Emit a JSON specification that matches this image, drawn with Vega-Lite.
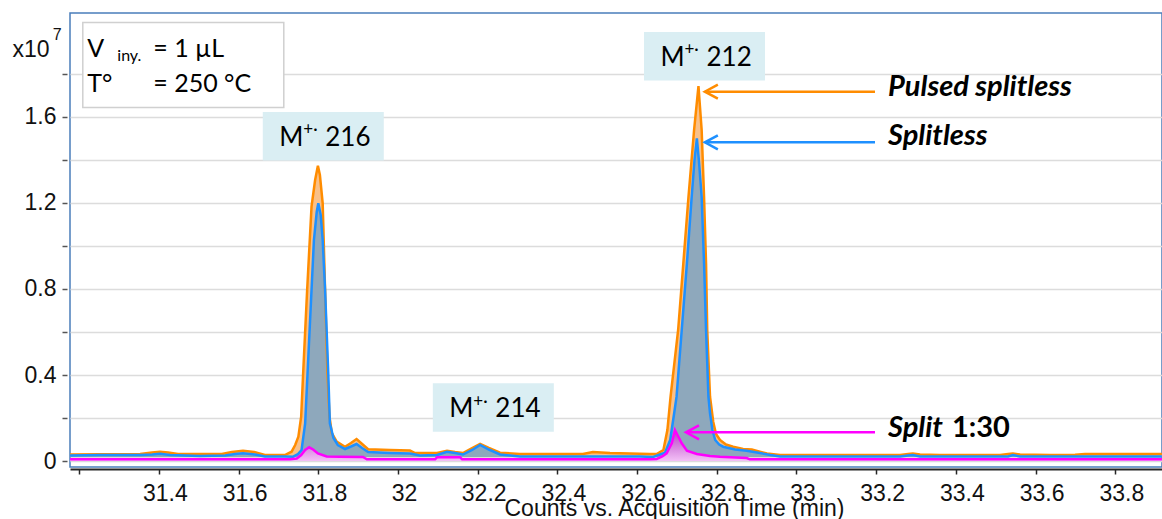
{
  "$schema": "https://vega.github.io/schema/vega-lite/v6.json",
  "width": 1092,
  "height": 454,
  "autosize": {"type": "none"},
  "padding": {"left": 70, "top": 13, "right": 0, "bottom": 52},
  "background": "white",
  "config": {"view": {"stroke": "#4a7ebb", "strokeWidth": 1.5}, "font": "Liberation Sans"},
  "datasets": {
    "traces": [
      {"s":"p","t":31.177,"y":0.0302},{"s":"p","t":31.252,"y":0.0312},{"s":"p","t":31.353,"y":0.0326},{"s":"p","t":31.383,"y":0.0395},{"s":"p","t":31.403,"y":0.0433},{"s":"p","t":31.423,"y":0.0395},{"s":"p","t":31.448,"y":0.0326},{"s":"p","t":31.503,"y":0.0326},{"s":"p","t":31.558,"y":0.0326},{"s":"p","t":31.583,"y":0.0419},{"s":"p","t":31.611,"y":0.0479},{"s":"p","t":31.639,"y":0.0419},{"s":"p","t":31.666,"y":0.0279},{"s":"p","t":31.716,"y":0.0279},{"s":"p","t":31.733,"y":0.0433},{"s":"p","t":31.742,"y":0.0744},{"s":"p","t":31.750,"y":0.1130},{"s":"p","t":31.757,"y":0.2060},{"s":"p","t":31.762,"y":0.4093},{"s":"p","t":31.772,"y":0.7953},{"s":"p","t":31.783,"y":1.1828},{"s":"p","t":31.792,"y":1.3069},{"s":"p","t":31.799,"y":1.3734},{"s":"p","t":31.804,"y":1.3302},{"s":"p","t":31.811,"y":1.1986},{"s":"p","t":31.817,"y":0.7953},{"s":"p","t":31.823,"y":0.4079},{"s":"p","t":31.828,"y":0.2060},{"s":"p","t":31.834,"y":0.1302},{"s":"p","t":31.846,"y":0.0898},{"s":"p","t":31.867,"y":0.0665},{"s":"p","t":31.882,"y":0.0837},{"s":"p","t":31.896,"y":0.1023},{"s":"p","t":31.910,"y":0.0791},{"s":"p","t":31.925,"y":0.0544},{"s":"p","t":31.980,"y":0.0512},{"s":"p","t":32.030,"y":0.0488},{"s":"p","t":32.043,"y":0.0372},{"s":"p","t":32.098,"y":0.0372},{"s":"p","t":32.123,"y":0.0479},{"s":"p","t":32.143,"y":0.0419},{"s":"p","t":32.163,"y":0.0372},{"s":"p","t":32.186,"y":0.0605},{"s":"p","t":32.206,"y":0.0791},{"s":"p","t":32.228,"y":0.0605},{"s":"p","t":32.256,"y":0.0386},{"s":"p","t":32.306,"y":0.0326},{"s":"p","t":32.407,"y":0.0326},{"s":"p","t":32.464,"y":0.0326},{"s":"p","t":32.489,"y":0.0419},{"s":"p","t":32.532,"y":0.0372},{"s":"p","t":32.582,"y":0.0349},{"s":"p","t":32.632,"y":0.0326},{"s":"p","t":32.649,"y":0.0326},{"s":"p","t":32.666,"y":0.0512},{"s":"p","t":32.676,"y":0.1442},{"s":"p","t":32.684,"y":0.2991},{"s":"p","t":32.703,"y":0.6093},{"s":"p","t":32.716,"y":0.9195},{"s":"p","t":32.729,"y":1.2293},{"s":"p","t":32.743,"y":1.5395},{"s":"p","t":32.754,"y":1.7441},{"s":"p","t":32.762,"y":1.5395},{"s":"p","t":32.768,"y":1.2293},{"s":"p","t":32.773,"y":0.9195},{"s":"p","t":32.776,"y":0.6093},{"s":"p","t":32.783,"y":0.2991},{"s":"p","t":32.791,"y":0.1828},{"s":"p","t":32.798,"y":0.1256},{"s":"p","t":32.808,"y":0.0977},{"s":"p","t":32.823,"y":0.0767},{"s":"p","t":32.841,"y":0.0665},{"s":"p","t":32.866,"y":0.0558},{"s":"p","t":32.888,"y":0.0535},{"s":"p","t":32.908,"y":0.0433},{"s":"p","t":32.926,"y":0.0349},{"s":"p","t":32.959,"y":0.0279},{"s":"p","t":33.009,"y":0.0279},{"s":"p","t":33.134,"y":0.0279},{"s":"p","t":33.260,"y":0.0279},{"s":"p","t":33.280,"y":0.0326},{"s":"p","t":33.292,"y":0.0349},{"s":"p","t":33.310,"y":0.0302},{"s":"p","t":33.360,"y":0.0279},{"s":"p","t":33.511,"y":0.0279},{"s":"p","t":33.531,"y":0.0326},{"s":"p","t":33.543,"y":0.0349},{"s":"p","t":33.561,"y":0.0302},{"s":"p","t":33.636,"y":0.0279},{"s":"p","t":33.699,"y":0.0293},{"s":"p","t":33.724,"y":0.0326},{"s":"p","t":33.812,"y":0.0326},{"s":"p","t":33.917,"y":0.0326},

      {"s":"b","t":31.177,"y":0.0256},{"s":"b","t":31.252,"y":0.0279},{"s":"b","t":31.353,"y":0.0279},{"s":"b","t":31.383,"y":0.0302},{"s":"b","t":31.403,"y":0.0340},{"s":"b","t":31.428,"y":0.0279},{"s":"b","t":31.503,"y":0.0233},{"s":"b","t":31.566,"y":0.0256},{"s":"b","t":31.591,"y":0.0326},{"s":"b","t":31.611,"y":0.0358},{"s":"b","t":31.641,"y":0.0302},{"s":"b","t":31.666,"y":0.0209},{"s":"b","t":31.716,"y":0.0209},{"s":"b","t":31.737,"y":0.0200},{"s":"b","t":31.749,"y":0.0326},{"s":"b","t":31.758,"y":0.0512},{"s":"b","t":31.767,"y":0.1753},{"s":"b","t":31.773,"y":0.4079},{"s":"b","t":31.783,"y":0.7953},{"s":"b","t":31.789,"y":1.0279},{"s":"b","t":31.796,"y":1.1581},{"s":"b","t":31.800,"y":1.1986},{"s":"b","t":31.806,"y":1.1441},{"s":"b","t":31.811,"y":1.0279},{"s":"b","t":31.817,"y":0.7953},{"s":"b","t":31.825,"y":0.4079},{"s":"b","t":31.829,"y":0.1753},{"s":"b","t":31.838,"y":0.1070},{"s":"b","t":31.849,"y":0.0744},{"s":"b","t":31.867,"y":0.0558},{"s":"b","t":31.882,"y":0.0674},{"s":"b","t":31.896,"y":0.0791},{"s":"b","t":31.910,"y":0.0605},{"s":"b","t":31.925,"y":0.0419},{"s":"b","t":31.980,"y":0.0372},{"s":"b","t":32.030,"y":0.0349},{"s":"b","t":32.055,"y":0.0256},{"s":"b","t":32.098,"y":0.0279},{"s":"b","t":32.123,"y":0.0433},{"s":"b","t":32.143,"y":0.0372},{"s":"b","t":32.163,"y":0.0302},{"s":"b","t":32.186,"y":0.0512},{"s":"b","t":32.206,"y":0.0744},{"s":"b","t":32.228,"y":0.0535},{"s":"b","t":32.256,"y":0.0302},{"s":"b","t":32.306,"y":0.0209},{"s":"b","t":32.407,"y":0.0209},{"s":"b","t":32.507,"y":0.0209},{"s":"b","t":32.607,"y":0.0209},{"s":"b","t":32.640,"y":0.0186},{"s":"b","t":32.670,"y":0.0386},{"s":"b","t":32.683,"y":0.0977},{"s":"b","t":32.693,"y":0.2219},{"s":"b","t":32.699,"y":0.2991},{"s":"b","t":32.712,"y":0.6093},{"s":"b","t":32.725,"y":0.9195},{"s":"b","t":32.737,"y":1.2293},{"s":"b","t":32.744,"y":1.4000},{"s":"b","t":32.750,"y":1.5009},{"s":"b","t":32.755,"y":1.4000},{"s":"b","t":32.762,"y":1.2293},{"s":"b","t":32.768,"y":0.9195},{"s":"b","t":32.773,"y":0.6093},{"s":"b","t":32.779,"y":0.2991},{"s":"b","t":32.783,"y":0.2219},{"s":"b","t":32.789,"y":0.1442},{"s":"b","t":32.796,"y":0.0977},{"s":"b","t":32.806,"y":0.0767},{"s":"b","t":32.816,"y":0.0665},{"s":"b","t":32.846,"y":0.0535},{"s":"b","t":32.875,"y":0.0479},{"s":"b","t":32.908,"y":0.0372},{"s":"b","t":32.934,"y":0.0279},{"s":"b","t":32.959,"y":0.0209},{"s":"b","t":33.260,"y":0.0209},{"s":"b","t":33.280,"y":0.0256},{"s":"b","t":33.292,"y":0.0279},{"s":"b","t":33.310,"y":0.0209},{"s":"b","t":33.531,"y":0.0209},{"s":"b","t":33.543,"y":0.0279},{"s":"b","t":33.561,"y":0.0209},{"s":"b","t":33.917,"y":0.0209},

      {"s":"m","t":31.177,"y":0.0079},{"s":"m","t":31.729,"y":0.0079},{"s":"m","t":31.746,"y":0.0116},{"s":"m","t":31.757,"y":0.0279},{"s":"m","t":31.767,"y":0.0512},{"s":"m","t":31.777,"y":0.0637},{"s":"m","t":31.787,"y":0.0535},{"s":"m","t":31.799,"y":0.0349},{"s":"m","t":31.821,"y":0.0209},{"s":"m","t":31.854,"y":0.0195},{"s":"m","t":31.912,"y":0.0186},{"s":"m","t":31.922,"y":0.0079},{"s":"m","t":32.093,"y":0.0079},{"s":"m","t":32.098,"y":0.0172},{"s":"m","t":32.156,"y":0.0172},{"s":"m","t":32.161,"y":0.0079},{"s":"m","t":32.632,"y":0.0079},{"s":"m","t":32.649,"y":0.0093},{"s":"m","t":32.663,"y":0.0209},{"s":"m","t":32.674,"y":0.0358},{"s":"m","t":32.687,"y":0.0823},{"s":"m","t":32.695,"y":0.1442},{"s":"m","t":32.704,"y":0.1116},{"s":"m","t":32.712,"y":0.0823},{"s":"m","t":32.725,"y":0.0479},{"s":"m","t":32.750,"y":0.0326},{"s":"m","t":32.783,"y":0.0233},{"s":"m","t":32.808,"y":0.0200},{"s":"m","t":32.875,"y":0.0140},{"s":"m","t":32.883,"y":0.0079},{"s":"m","t":33.917,"y":0.0079}
    ],
    "grid": [{"t":31.2},{"t":31.4},{"t":31.6},{"t":31.8},{"t":32.0},{"t":32.2},{"t":32.4},{"t":32.6},{"t":32.8},{"t":33.0},{"t":33.2},{"t":33.4},{"t":33.6},{"t":33.8}],
    "ions": [{"ion":"216","t":31.8125,"y":1.510},{"ion":"212","t":32.7691,"y":1.8823},{"ion":"214","t":32.2392,"y":0.2488}],
    "arrows": [{"s":"p","t":32.770,"t2":33.197,"y":1.7177},{"s":"b","t":32.770,"t2":33.197,"y":1.4823},{"s":"m","t":32.7227,"t2":33.197,"y":0.1335}],
    "names": [{"name":"Pulsed splitless","t":33.2296,"y":1.698},{"name":"Splitless","t":33.2296,"y":1.470},{"name":"Split","t":33.2296,"y":0.113}],
    "info": [{"t":31.4612,"y":1.8419}]
  },
  "encoding": {
    "x": {"field": "t", "type": "quantitative",
      "scale": {"domain": [31.1769, 33.9172], "nice": false, "zero": false},
      "axis": {"values": [31.2,31.4,31.6,31.8,32,32.2,32.4,32.6,32.8,33,33.2,33.4,33.6,33.8],
        "labelExpr": "datum.value < 31.3 ? '' : format(datum.value, '~g')",
        "grid": false, "offset": 2, "domainColor": "#262626", "domainWidth": 2,
        "tickColor": "#262626", "tickWidth": 1.5, "tickSize": 5,
        "labelFont": "Liberation Sans", "labelFontSize": 23, "labelColor": "#111111", "labelPadding": 8, "labelOffset": 6,
        "labelFlush": false, "labelOverlap": false,
        "title": "Counts vs. Acquisition Time (min)", "titleFont": "Liberation Sans", "titleFontSize": 23,
        "titleFontWeight": "normal", "titleColor": "#111111", "titleX": 604, "titleY": 46, "titleBaseline": "alphabetic"}},
    "y": {"field": "y", "type": "quantitative",
      "scale": {"domain": [-0.0279, 2.0837], "nice": false, "zero": false},
      "axis": {"values": [0,0.2,0.4,0.6,0.8,1.0,1.2,1.4,1.6,1.8],
        "labelExpr": "round(datum.value*10) % 4 == 0 ? format(datum.value, '~g') : ''",
        "grid": true, "gridColor": "#dcdcdc", "gridWidth": 1.5, "domain": false, "offset": 3,
        "tickColor": "#555555", "tickWidth": 1.5, "tickSize": 5,
        "labelFont": "Liberation Sans", "labelFontSize": 23, "labelColor": "#111111", "labelPadding": 6,
        "title": "x10", "titleAngle": 0, "titleX": -55, "titleY": 43, "titleAlign": "left", "titleBaseline": "alphabetic",
        "titleFont": "Liberation Sans", "titleFontSize": 23, "titleFontWeight": "normal", "titleColor": "#111111"}}
  },
  "layer": [
    {"data": {"name": "grid"}, "mark": {"type": "rule", "color": "#dcdcdc", "strokeWidth": 1.5},
     "encoding": {"y": {"datum": -0.0279}, "y2": {"datum": 1.92}}},
    {"data": {"values": [{}]}, "mark": {"type": "rule", "color": "#7f7f7f", "strokeWidth": 2, "xOffset": -3},
     "encoding": {"x": {"datum": 31.1769}, "y": {"datum": -0.0279}, "y2": {"datum": 1.92}}},
    {"data": {"name": "traces"}, "transform": [{"filter": "datum.s == 'p'"}],
     "mark": {"type": "area", "fill": "#f9c088", "opacity": 1},
     "encoding": {"y2": {"datum": 0.018}}},
    {"data": {"name": "traces"}, "transform": [{"filter": "datum.s == 'b'"}],
     "mark": {"type": "area", "fill": "#8ea8bc", "opacity": 1},
     "encoding": {"y2": {"datum": 0.018}}},
    {"data": {"name": "traces"}, "transform": [{"filter": "datum.s == 'm'"}],
     "mark": {"type": "area", "opacity": 1,
       "fill": {"gradient": "linear", "x1": 0, "y1": 0, "x2": 0, "y2": 1,
         "stops": [{"offset": 0, "color": "#b43fc4"}, {"offset": 1, "color": "#f3c0f6"}]}},
     "encoding": {"y2": {"datum": 0}}},
    {"data": {"name": "traces"}, "transform": [{"filter": "datum.s == 'p'"}],
     "mark": {"type": "line", "color": "#ff8c00", "strokeWidth": 2.5}},
    {"data": {"name": "traces"}, "transform": [{"filter": "datum.s == 'b'"}],
     "mark": {"type": "line", "color": "#1e90ff", "strokeWidth": 2.5}},
    {"data": {"name": "traces"}, "transform": [{"filter": "datum.s == 'm'"}],
     "mark": {"type": "line", "color": "#ff00ff", "strokeWidth": 2.5}},
    {"data": {"name": "arrows"}, "mark": {"type": "rule", "strokeWidth": 2.5},
     "encoding": {"x2": {"field": "t2"},
       "color": {"field": "s", "type": "nominal", "scale": {"domain": ["p","b","m"], "range": ["#ff8c00","#1e90ff","#ff00ff"]}, "legend": null}}},
    {"data": {"name": "arrows"}, "mark": {"type": "point", "shape": "M1,-0.54L0,0L1,0.54", "size": 676, "filled": false, "strokeWidth": 2.5, "opacity": 1},
     "encoding": {"color": {"field": "s", "type": "nominal", "scale": {"domain": ["p","b","m"], "range": ["#ff8c00","#1e90ff","#ff00ff"]}, "legend": null}}},
    {"data": {"name": "names"}, "mark": {"type": "text", "font": "Lato", "fontSize": 29, "fontWeight": "bold", "fontStyle": "italic", "align": "left", "baseline": "alphabetic", "color": "#000000"},
     "encoding": {"text": {"field": "name"}}},
    {"data": {"name": "names"}, "transform": [{"filter": "datum.name == 'Split'"}],
     "mark": {"type": "text", "text": "1:30", "font": "Lato", "fontSize": 29, "fontWeight": "bold", "align": "left", "baseline": "alphabetic", "color": "#000000", "dx": 64}},
    {"data": {"name": "ions"}, "mark": {"type": "point", "shape": "M-1,-0.401H1V0.401H-1Z", "size": 14641, "filled": true, "fill": "#daeef3", "strokeWidth": 0, "opacity": 1}},
    {"data": {"name": "ions"}, "mark": {"type": "text", "text": "M", "font": "Lato", "fontSize": 26, "align": "left", "baseline": "alphabetic", "color": "#000000", "dx": -44, "dy": 9.7}},
    {"data": {"name": "ions"}, "mark": {"type": "text", "text": "+·", "font": "Lato", "fontSize": 17, "align": "left", "baseline": "alphabetic", "color": "#000000", "dx": -20, "dy": -1}},
    {"data": {"name": "ions"}, "mark": {"type": "text", "font": "Lato", "fontSize": 26, "align": "left", "baseline": "alphabetic", "color": "#000000", "dx": 2, "dy": 9.7},
     "encoding": {"text": {"field": "ion"}}},
    {"data": {"name": "info"}, "mark": {"type": "text", "text": "7", "font": "Liberation Sans", "fontSize": 16, "align": "left", "baseline": "alphabetic", "color": "#111111", "dx": -130.5, "dy": -25}},
    {"data": {"name": "info"}, "mark": {"type": "point", "shape": "M-1,-0.423H1V0.423H-1Z", "size": 40401, "filled": true, "fill": "#ffffff", "stroke": "#d0d0d0", "strokeWidth": 1.5, "opacity": 1}},
    {"data": {"name": "info"}, "mark": {"type": "text", "text": "V", "font": "Lato", "fontSize": 25, "align": "left", "baseline": "alphabetic", "color": "#000000", "dx": -96, "dy": -8.3}},
    {"data": {"name": "info"}, "mark": {"type": "text", "text": "iny.", "font": "Lato", "fontSize": 16, "align": "left", "baseline": "alphabetic", "color": "#000000", "dx": -66, "dy": -4}},
    {"data": {"name": "info"}, "mark": {"type": "text", "text": "= 1 µL", "font": "Lato", "fontSize": 25, "align": "left", "baseline": "alphabetic", "color": "#000000", "dx": -30, "dy": -8.3}},
    {"data": {"name": "info"}, "mark": {"type": "text", "text": "T°", "font": "Lato", "fontSize": 25, "align": "left", "baseline": "alphabetic", "color": "#000000", "dx": -96, "dy": 26.7}},
    {"data": {"name": "info"}, "mark": {"type": "text", "text": "= 250 °C", "font": "Lato", "fontSize": 25, "align": "left", "baseline": "alphabetic", "color": "#000000", "dx": -30, "dy": 26.7}}
  ]
}
